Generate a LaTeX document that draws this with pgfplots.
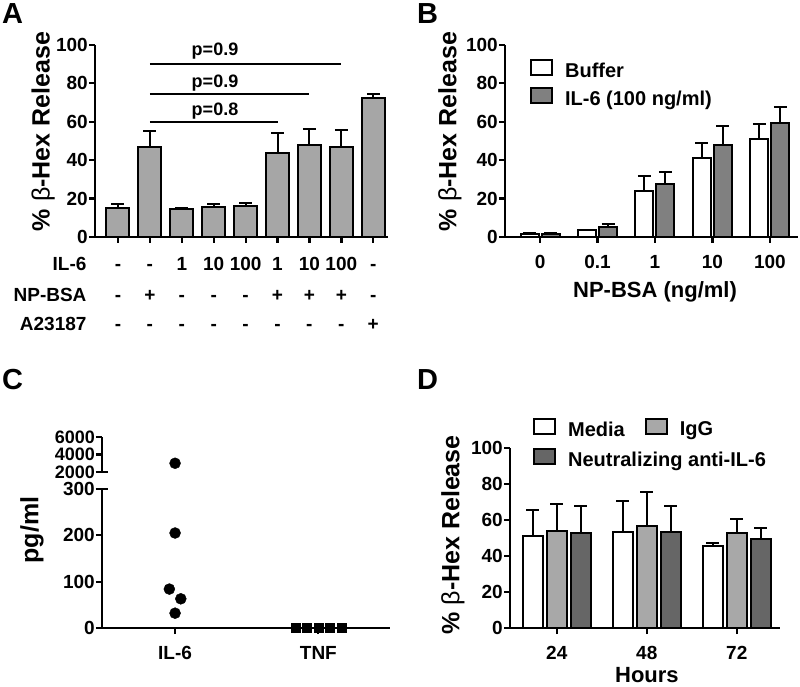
\documentclass[border=0pt]{standalone}
\usepackage{fontspec}
\setmainfont{Liberation Sans}
\usepackage{pgfplots}
\pgfplotsset{compat=1.18}

\definecolor{barA}{gray}{0.65}
\definecolor{darkB}{gray}{0.50}
\definecolor{lightD}{gray}{0.66}
\definecolor{darkD}{gray}{0.40}

\newcommand\fs[1]{\bfseries\fontsize{#1}{#1}\selectfont}

\pgfplotsset{
  panel/.style={
    scale only axis,
    axis x line*=bottom, axis y line*=left,
    axis line style={line width=2.2pt,-},
    tick align=outside, major tick length=6pt,
    every tick/.style={line width=2.2pt, black},
    tick label style={font=\fs{19}},
    yticklabel style={inner xsep=1pt},
    xticklabel style={yshift=-9pt},
    /pgf/number format/assume math mode=true,
    xlabel style={font=\fs{22}},
    ylabel style={font=\fs{25}},
  },
  bars/.style={draw=black, line width=2pt,
    error bars/.cd, y dir=plus, y explicit, error mark=-,
    error bar style={line width=2pt, black},
    error mark options={rotate=90, line width=2pt, mark size=6.5pt, black}},
  boxlegend/.style={
    legend image code/.code={\draw[##1, line width=2pt] (0pt,-4pt) rectangle (21pt,11pt);
      \path (31pt,0pt);},
    legend style={draw=none, fill=none, font=\fs{20}, inner sep=0pt,
      anchor=north west, legend cell align=left},
  },
}

\begin{document}
\begin{tikzpicture}
\useasboundingbox (0,0) rectangle (800pt,686pt);

% ---------------- A ----------------
\begin{axis}[panel, at={(95pt,449pt)}, anchor=south west,
  width=293pt, height=192pt,
  xmin=-0.72, xmax=8.46, ymin=0, ymax=100,
  ytick={0,20,...,100}, xtick={0,...,8}, xticklabels={},
  ybar, bar width=23pt, clip=false,
  ylabel={\% {\mdseries β}-Hex Release},
  ylabel style={at={(axis description cs:-0.177,0.55)}, anchor=center},
]
\addplot[fill=barA, bars] coordinates {
  (0,15) +- (0,2)
  (1,47) +- (0,8)
  (2,14.5) +- (0,0.8)
  (3,15.5) +- (0,1.7)
  (4,16) +- (0,1.8)
  (5,44) +- (0,10)
  (6,48) +- (0,8.5)
  (7,47) +- (0,8.5)
  (8,72.5) +- (0,1.8)
};
\draw[line width=2pt] (axis cs:1,90) -- (axis cs:7,90);
\draw[line width=2pt] (axis cs:1,74.3) -- (axis cs:6,74.3);
\draw[line width=2pt] (axis cs:1,59.7) -- (axis cs:5,59.7);
\node[anchor=base, font=\fs{18}] at (axis cs:3.04,94.3) {p=0.9};
\node[anchor=base, font=\fs{18}] at (axis cs:3.04,78) {p=0.9};
\node[anchor=base, font=\fs{18}] at (axis cs:3.04,63.5) {p=0.8};
\end{axis}
\begin{scope}[every node/.style={font=\fs{19}, anchor=base}]
\node[anchor=base east] at (90pt,415pt) {IL-6};
\node[anchor=base east] at (90pt,384pt) {NP-BSA};
\node[anchor=base east] at (90pt,355pt) {A23187};
\foreach \x/\a/\b/\c in {118/-/-/-,149.9/-/+/-,181.8/1/-/-,213.7/10/-/-,245.6/100/-/-,277.5/1/+/-,309.4/10/+/-,341.3/100/+/-,373.2/-/-/+}{
  \node at (\x pt,415pt) {\a};
  \node at (\x pt,384pt) {\b};
  \node at (\x pt,355pt) {\c};
}
\end{scope}

% ---------------- B ----------------
\begin{axis}[panel, at={(505pt,449pt)}, anchor=south west,
  width=293pt, height=192pt,
  xmin=-0.61, xmax=4.49, ymin=0, ymax=100,
  ytick={0,20,...,100}, xtick={0,...,4}, xticklabels={0,0.1,1,10,100},
  ybar=3pt, bar width=18pt,
  xlabel={NP-BSA (ng/ml)},
  xlabel style={at={(axis description cs:0.512,-0.3125)}, anchor=base},
  ylabel={\% {\mdseries β}-Hex Release},
  ylabel style={at={(axis description cs:-0.188,0.55)}, anchor=center},
  boxlegend,
  legend style={at={(axis description cs:0.085,0.93)}, row sep=6pt},
]
\addplot[fill=white, bars] coordinates {
  (0,1.5) +- (0,0.5)
  (1,3.5) +- (0,0.3)
  (2,24) +- (0,8)
  (3,41) +- (0,8)
  (4,51) +- (0,8)
};
\addplot[fill=darkB, bars] coordinates {
  (0,1.5) +- (0,0.6)
  (1,5) +- (0,2)
  (2,27.5) +- (0,6.5)
  (3,48) +- (0,10)
  (4,59.5) +- (0,8)
};
\legend{Buffer, IL-6 (100 ng/ml)}
\end{axis}

% ---------------- C ----------------
\begin{axis}[panel, at={(102pt,58pt)}, anchor=south west,
  width=288pt, height=139pt,
  xmin=-0.51, xmax=1.50, ymin=0, ymax=300,
  ytick={0,100,200,300}, xtick={0,1}, xticklabels={IL-6,TNF},
  extra y ticks={300}, extra y tick labels={},
  extra y tick style={tick align=center, major tick length=12pt},
  clip=false,
  ylabel={pg/ml},
  ylabel style={at={(axis description cs:-0.243,0.705)}, anchor=center},
]
\addplot[only marks, mark=*, mark size=5.5pt, black] coordinates {
  (0,205) (-0.04,84) (0.04,63) (0,32)
};
\addplot[only marks, mark=square*, mark size=4.5pt, black] coordinates {
  (0.84,0) (0.92,0) (1.0,0) (1.08,0) (1.16,0)
};
\end{axis}
\begin{axis}[panel, at={(102pt,214pt)}, anchor=south west,
  width=288pt, height=35pt,
  axis x line=none,
  xmin=-0.51, xmax=1.50, ymin=2000, ymax=6000,
  ytick={2000,4000,6000}, yticklabels={2000,4000,6000},
  yticklabel style={font=\fs{18}},
  extra y ticks={2000}, extra y tick labels={},
  extra y tick style={tick align=center, major tick length=12pt},
  clip=false,
]
\addplot[only marks, mark=*, mark size=5.5pt, black] coordinates {(0,3000)};
\end{axis}

% ---------------- D ----------------
\begin{axis}[panel, at={(510pt,58pt)}, anchor=south west,
  width=270pt, height=180pt,
  xmin=-0.52, xmax=2.48, ymin=0, ymax=100,
  ytick={0,20,...,100}, xtick={0,1,2}, xticklabels={24,48,72},
  ybar=4pt, bar width=20pt,
  xlabel={Hours},
  xlabel style={at={(axis description cs:0.507,-0.305)}, anchor=base},
  ylabel={\% {\mdseries β}-Hex Release},
  ylabel style={at={(axis description cs:-0.211,0.517)}, anchor=center},
  boxlegend,
  legend columns=2,
  legend style={at={(axis description cs:0.085,1.17)}, row sep=8pt,
    /tikz/every even column/.append style={column sep=18pt}},
]
\addplot[fill=white, bars] coordinates {
  (0,51) +- (0,14.5)
  (1,53.5) +- (0,17)
  (2,45.5) +- (0,2)
};
\addplot[fill=lightD, bars] coordinates {
  (0,54) +- (0,15)
  (1,56.5) +- (0,19)
  (2,53) +- (0,7.5)
};
\addplot[fill=darkD, bars] coordinates {
  (0,53) +- (0,15)
  (1,53.5) +- (0,14.5)
  (2,49.5) +- (0,6)
};
\legend{Media, IgG, \rlap{Neutralizing anti-IL-6}}
\end{axis}

% panel letters
\node[anchor=base west, font=\fs{29}, inner sep=0pt] at (2pt,662pt) {A};
\node[anchor=base west, font=\fs{29}, inner sep=0pt] at (417pt,662pt) {B};
\node[anchor=base west, font=\fs{29}, inner sep=0pt] at (2pt,296pt) {C};
\node[anchor=base west, font=\fs{29}, inner sep=0pt] at (417pt,296pt) {D};
\end{tikzpicture}
\end{document}
